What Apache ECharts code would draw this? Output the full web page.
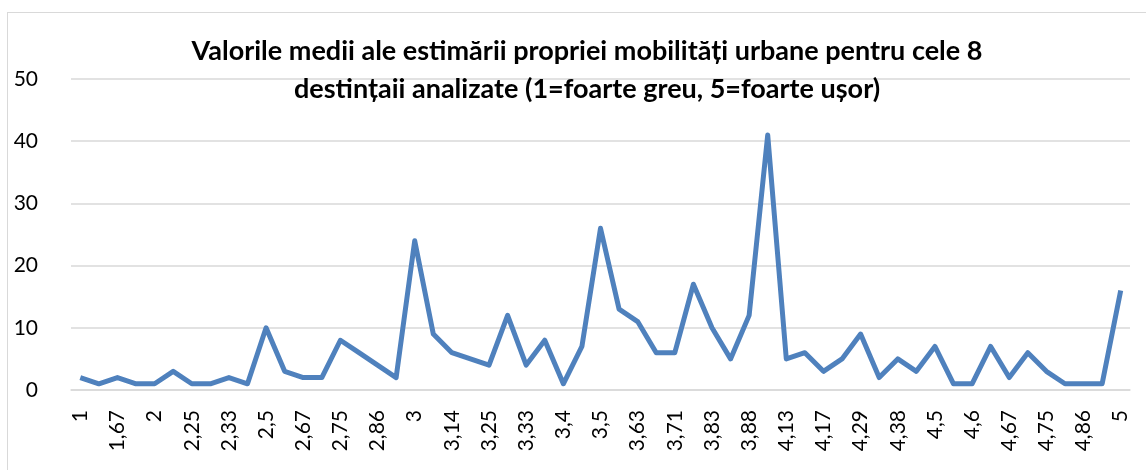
<!DOCTYPE html>
<html>
<head>
<meta charset="utf-8">
<script src="https://cdn.jsdelivr.net/npm/echarts@6/dist/echarts.min.js"></script>
<style>
  html, body { margin: 0; padding: 0; background: #fff; }
  .frame {
    position: absolute; left: 7px; top: 12px;
    width: 1200px; height: 500px;
    border: 1px solid #d9d9d9;
  }
  #chart { position: absolute; left: 0; top: 0; width: 1146px; height: 470px; }
</style>
</head>
<body>
<div class="frame"></div>
<div id="chart"></div>
<script>
// media estimarii (categorii pe axa x)
const categories = [
  "1", "1,5", "1,67", "1,75", "2", "2,2", "2,25", "2,29", "2,33", "2,38",
  "2,5", "2,6", "2,67", "2,71", "2,75", "2,83", "2,86", "2,88", "3", "3,13",
  "3,14", "3,2", "3,25", "3,29", "3,33", "3,38", "3,4", "3,43", "3,5", "3,57",
  "3,63", "3,67", "3,71", "3,75", "3,83", "3,86", "3,88", "4", "4,13", "4,14",
  "4,17", "4,25", "4,29", "4,33", "4,38", "4,43", "4,5", "4,57", "4,6", "4,63",
  "4,67", "4,71", "4,75", "4,83", "4,86", "4,88", "5"
];
// numar de respondenti
const values = [
  2, 1, 2, 1, 1, 3, 1, 1, 2, 1,
  10, 3, 2, 2, 8, 6, 4, 2, 24, 9,
  6, 5, 4, 12, 4, 8, 1, 7, 26, 13,
  11, 6, 6, 17, 10, 5, 12, 41, 5, 6,
  3, 5, 9, 2, 5, 3, 7, 1, 1, 7,
  2, 6, 3, 1, 1, 1, 16
];
const yTicks = [0, 10, 20, 30, 40, 50];

const chart = echarts.init(document.getElementById("chart"));
const font = "Lato, 'Open Sans', sans-serif";

chart.setOption({
  animation: false,
  title: {
    text: "Valorile medii ale estimării propriei mobilități urbane pentru cele 8\ndestințaii analizate (1=foarte greu, 5=foarte ușor)",
    left: 582,
    textAlign: "center",
    top: 27,
    textStyle: {
      fontFamily: font,
      fontSize: 27,
      fontWeight: "bold",
      color: "#000",
      lineHeight: 38
    }
  },
  grid: { left: 71, right: 16, top: 79, bottom: 80 },
  xAxis: {
    type: "category",
    data: categories,
    boundaryGap: true,
    axisLine: { lineStyle: { color: "#d9d9d9", width: 1.5 } },
    axisTick: { show: false },
    axisLabel: {
      interval: 1,
      rotate: 90,
      margin: 20,
      color: "#000",
      fontFamily: font,
      fontSize: 21
    }
  },
  yAxis: {
    type: "value",
    min: yTicks[0],
    max: yTicks[yTicks.length - 1],
    interval: 10,
    axisLine: { show: false },
    axisTick: { show: false },
    splitLine: { lineStyle: { color: "#d9d9d9", width: 1.5 } },
    axisLabel: {
      margin: 33,
      color: "#000",
      fontFamily: font,
      fontSize: 21
    }
  },
  series: [{
    type: "line",
    data: values,
    showSymbol: false,
    lineStyle: { color: "#4f81bd", width: 5, join: "round" },
    itemStyle: { color: "#4f81bd" }
  }]
});
</script>
</body>
</html>
